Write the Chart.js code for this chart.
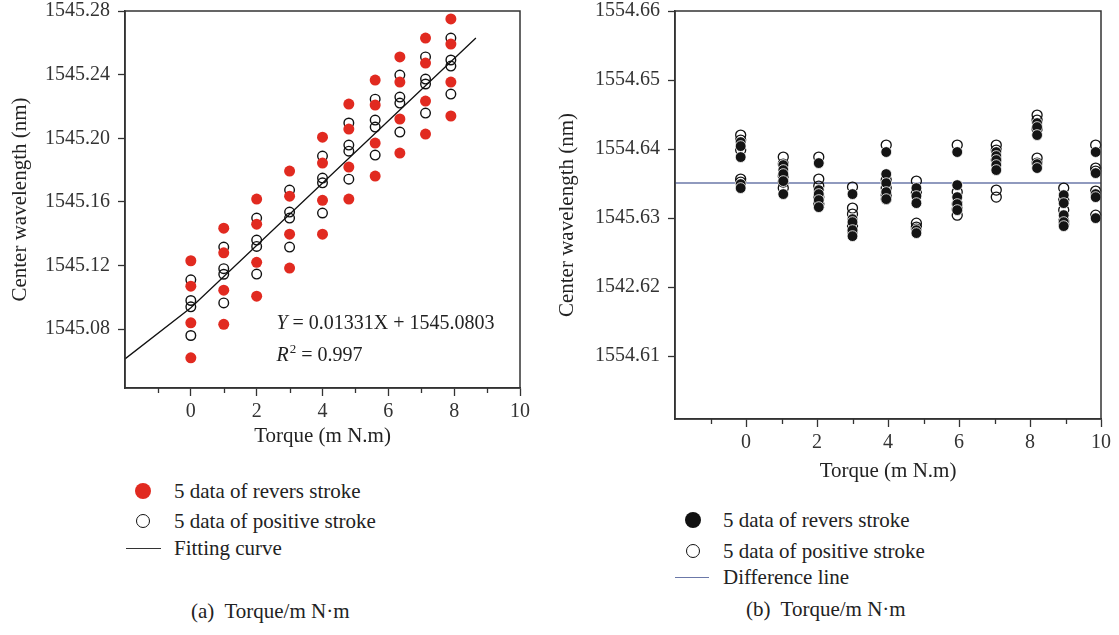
<!DOCTYPE html>
<html>
<head>
<meta charset="utf-8">
<script src="https://cdn.jsdelivr.net/npm/chart.js@4.4.1/dist/chart.umd.min.js"></script>
<style>
body { margin: 0; background: #fff; width: 1119px; height: 635px; overflow: hidden; position: relative; font-family: "Liberation Serif", serif; color: #222; }
.box { position: absolute; }
.lg { position: absolute; font-size: 21px; line-height: 24px; white-space: nowrap; }
.dot { position: absolute; border-radius: 50%; box-sizing: border-box; }
.ln { position: absolute; height: 0; }
</style>
</head>
<body>
<div class="box" style="left:0;top:0;width:540px;height:460px"><canvas id="chartA"></canvas></div>
<div class="box" style="left:545px;top:0;width:574px;height:500px"><canvas id="chartB"></canvas></div>

<!-- legend (a) -->
<div class="dot" style="left:135px;top:483px;width:16px;height:16px;background:#e12a20"></div>
<div class="lg" style="left:174px;top:479px">5 data of revers stroke</div>
<div class="dot" style="left:136px;top:514px;width:14px;height:14px;border:1.5px solid #111"></div>
<div class="lg" style="left:174px;top:509px">5 data of positive stroke</div>
<div class="ln" style="left:126px;top:548px;width:35px;border-top:1.5px solid #333"></div>
<div class="lg" style="left:174px;top:536px">Fitting curve</div>
<div class="lg" style="left:191px;top:599px">(a)&nbsp; Torque/m N·m</div>

<!-- legend (b) -->
<div class="dot" style="left:685px;top:512px;width:16px;height:16px;background:#111"></div>
<div class="lg" style="left:723px;top:508px">5 data of revers stroke</div>
<div class="dot" style="left:686px;top:544px;width:14px;height:14px;border:1.5px solid #111"></div>
<div class="lg" style="left:723px;top:539px">5 data of positive stroke</div>
<div class="ln" style="left:675px;top:577px;width:34px;border-top:1.5px solid #6b78a8"></div>
<div class="lg" style="left:723px;top:565px">Difference line</div>
<div class="lg" style="left:746px;top:597px">(b)&nbsp; Torque/m N·m</div>

<script>
// (a) torque positions and wavelengths per torque step
const torqueA = [0, 1, 2, 3, 4, 4.8, 5.6, 6.35, 7.13, 7.9];
const reversA = [
    [1545.123, 1545.107, 1545.084, 1545.062],
    [1545.1435, 1545.128, 1545.1045, 1545.083],
    [1545.1618, 1545.146, 1545.122, 1545.1007],
    [1545.1794, 1545.1636, 1545.1397, 1545.1184],
    [1545.2007, 1545.1844, 1545.161, 1545.1397],
    [1545.2215, 1545.2058, 1545.1819, 1545.1618],
    [1545.2366, 1545.2209, 1545.197, 1545.1762],
    [1545.2511, 1545.2353, 1545.2121, 1545.1907],
    [1545.263, 1545.2473, 1545.2234, 1545.2026],
    [1545.275, 1545.2592, 1545.2353, 1545.214]
];
const positiveA = [
    [1545.111, 1545.098, 1545.094, 1545.076],
    [1545.1316, 1545.118, 1545.1145, 1545.0965],
    [1545.1498, 1545.136, 1545.132, 1545.1146],
    [1545.1674, 1545.1536, 1545.1498, 1545.1316],
    [1545.1888, 1545.175, 1545.172, 1545.153],
    [1545.2096, 1545.1957, 1545.1919, 1545.1743],
    [1545.2246, 1545.2114, 1545.207, 1545.1894],
    [1545.2397, 1545.2259, 1545.2221, 1545.2039],
    [1545.2511, 1545.2372, 1545.2341, 1545.2158],
    [1545.263, 1545.2492, 1545.2454, 1545.2278]
];
const fitX = [-2, 0, 8.66];
const fitY = [1545.0613, 1545.0935, 1545.263];

// (b)
const torqueB = [-0.15, 1.05, 2.05, 3, 3.95, 4.8, 5.95, 7.05, 8.2, 8.95, 9.85];
const reversB = [
    [1554.64101, 1554.64043, 1554.63884, 1554.63493, 1554.63435],
    [1554.63768, 1554.63696, 1554.63638, 1554.63536, 1554.63348],
    [1554.63797, 1554.63406, 1554.63348, 1554.63261, 1554.63159],
    [1554.63348, 1554.62985, 1554.62942, 1554.62826, 1554.62739],
    [1554.63957, 1554.63638, 1554.63507, 1554.63377, 1554.63275],
    [1554.63435, 1554.63319, 1554.63217, 1554.62826, 1554.62783],
    [1554.63957, 1554.63478, 1554.63304, 1554.63203, 1554.63116],
    [1554.63957, 1554.63899, 1554.63841, 1554.63768, 1554.63696],
    [1554.64377, 1554.64319, 1554.64203, 1554.63783, 1554.63725],
    [1554.63333, 1554.63217, 1554.63043, 1554.62942, 1554.62884],
    [1554.63957, 1554.63652, 1554.63348, 1554.63304, 1554.63]
];
const positiveB = [
    [1554.64203, 1554.6413, 1554.63985, 1554.63565, 1554.63522],
    [1554.63884, 1554.63783, 1554.63609, 1554.63522, 1554.63435],
    [1554.63884, 1554.63565, 1554.63464, 1554.63304, 1554.63203],
    [1554.63449, 1554.63145, 1554.63058, 1554.62884, 1554.62812],
    [1554.64058, 1554.63551, 1554.63435, 1554.63333, 1554.63275],
    [1554.63536, 1554.63362, 1554.62927, 1554.6287, 1554.62841],
    [1554.64058, 1554.63377, 1554.63203, 1554.6313, 1554.63043],
    [1554.64058, 1554.63985, 1554.63841, 1554.63406, 1554.63304],
    [1554.64493, 1554.6442, 1554.6429, 1554.6387, 1554.63797],
    [1554.63435, 1554.63261, 1554.63116, 1554.62956, 1554.62913],
    [1554.64058, 1554.63725, 1554.63681, 1554.63391, 1554.63043]
];
const diffX = [-2, 10];
const diffY = [1554.6351, 1554.6351];
const yLabelsB = ["1554.61", "1542.62", "1545.63", "1554.64", "1554.65", "1554.66"];

const FONT = "Liberation Serif";

function toPoints(xs, cols) {
    const out = [];
    cols.forEach((col, i) => col.forEach(v => out.push({ x: xs[i], y: v })));
    return out;
}

function pairs(xs, ys) {
    return xs.map((x, i) => ({ x: x, y: ys[i] }));
}

// box around the plot and short minor ticks on odd torque values
const framePlugin = {
    id: "frame",
    afterDraw(chart) {
        const ctx = chart.ctx;
        const a = chart.chartArea;
        const xs = chart.scales.x;
        ctx.save();
        ctx.strokeStyle = "#333";
        ctx.lineWidth = 1.5;
        ctx.strokeRect(a.left, a.top, a.right - a.left, a.bottom - a.top);
        ctx.lineWidth = 1.3;
        xs.ticks.forEach(t => {
            if (Math.abs(t.value % 2) === 1) {
                const px = Math.round(xs.getPixelForValue(t.value)) + 0.5;
                ctx.beginPath();
                ctx.moveTo(px, a.bottom);
                ctx.lineTo(px, a.bottom + 5);
                ctx.stroke();
            }
        });
        ctx.restore();
    }
};

const equationPlugin = {
    id: "equation",
    afterDraw(chart) {
        const ctx = chart.ctx;
        const xs = chart.scales.x, ys = chart.scales.y;
        const x0 = xs.getPixelForValue(2.6);
        const y1 = ys.getPixelForValue(1545.0837);
        const y2 = ys.getPixelForValue(1545.063);
        ctx.save();
        ctx.fillStyle = "#222";
        ctx.textBaseline = "middle";
        ctx.font = "italic 20px '" + FONT + "'";
        ctx.fillText("Y", x0, y1);
        let w = ctx.measureText("Y").width;
        ctx.font = "20px '" + FONT + "'";
        ctx.fillText(" = 0.01331X + 1545.0803", x0 + w, y1);
        ctx.font = "italic 20px '" + FONT + "'";
        ctx.fillText("R", x0, y2);
        w = ctx.measureText("R").width;
        ctx.font = "13px '" + FONT + "'";
        ctx.fillText("2", x0 + w + 1, y2 - 7);
        const w2 = ctx.measureText("2").width;
        ctx.font = "20px '" + FONT + "'";
        ctx.fillText(" = 0.997", x0 + w + w2 + 1, y2);
        ctx.restore();
    }
};

function xAxis(height, titlePad) {
    return {
        type: "linear",
        min: -2,
        max: 10,
        afterFit(scale) {
            scale.height = height;
            scale.paddingLeft = 0;
            scale.paddingRight = 0;
        },
        ticks: {
            stepSize: 1,
            autoSkip: false,
            maxRotation: 0,
            padding: 4,
            color: "#333",
            font: { family: FONT, size: 20 },
            callback: v => (v >= 0 && v % 2 === 0) ? String(v) : ""
        },
        grid: {
            drawOnChartArea: false,
            tickLength: 8,
            tickWidth: 1.3,
            tickColor: c => (c.tick && c.tick.value >= 0 && c.tick.value % 2 === 0) ? "#333" : "rgba(0,0,0,0)"
        },
        border: { color: "#333", width: 1.5 },
        title: {
            display: true,
            text: "Torque (m N.m)",
            color: "#222",
            font: { family: FONT, size: 21 },
            padding: { top: 0, bottom: titlePad }
        }
    };
}

function yAxis(width, min, max, step, titlePad, labelFn) {
    return {
        type: "linear",
        min: min,
        max: max,
        afterFit(scale) {
            scale.width = width;
            scale.paddingTop = 0;
            scale.paddingBottom = 0;
        },
        ticks: {
            stepSize: step,
            includeBounds: false,
            padding: 8,
            color: "#333",
            font: { family: FONT, size: 20 },
            callback: labelFn
        },
        grid: {
            drawOnChartArea: false,
            tickLength: 7,
            tickWidth: 1.3,
            tickColor: "#333"
        },
        border: { color: "#333", width: 1.5 },
        title: {
            display: true,
            text: "Center wavelength (nm)",
            color: "#222",
            font: { family: FONT, size: 21 },
            padding: { top: titlePad, bottom: 0 }
        }
    };
}

const baseOptions = {
    responsive: true,
    maintainAspectRatio: false,
    animation: false,
    plugins: { legend: { display: false }, tooltip: { enabled: false } }
};

new Chart(document.getElementById("chartA"), {
    type: "scatter",
    data: {
        datasets: [
            {
                label: "Fitting curve",
                data: pairs(fitX, fitY),
                showLine: true,
                borderColor: "#111",
                borderWidth: 1.3,
                pointRadius: 0,
                tension: 0
            },
            {
                label: "5 data of revers stroke",
                data: toPoints(torqueA, reversA),
                pointRadius: 5.5,
                backgroundColor: "#e12a20",
                borderColor: "#e12a20",
                borderWidth: 0
            },
            {
                label: "5 data of positive stroke",
                data: toPoints(torqueA, positiveA),
                pointRadius: 4.8,
                backgroundColor: "rgba(255,255,255,0)",
                borderColor: "#111",
                borderWidth: 1.4
            }
        ]
    },
    options: Object.assign({}, baseOptions, {
        layout: { padding: { top: 11, right: 20, left: 0, bottom: 0 } },
        scales: {
            x: xAxis(72, 11),
            y: yAxis(125, 1545.043, 1545.28, 0.04, 8, v => v.toFixed(2))
        }
    }),
    plugins: [framePlugin, equationPlugin]
});

new Chart(document.getElementById("chartB"), {
    type: "scatter",
    data: {
        datasets: [
            {
                label: "5 data of revers stroke",
                data: toPoints(torqueB, reversB),
                pointRadius: 5.4,
                backgroundColor: "#141414",
                borderColor: "#ffffff",
                borderWidth: 0.8,
                clip: false
            },
            {
                label: "5 data of positive stroke",
                data: toPoints(torqueB, positiveB),
                pointRadius: 5,
                backgroundColor: "rgba(255,255,255,0)",
                borderColor: "#111",
                borderWidth: 1.3,
                clip: false
            },
            {
                label: "Difference line",
                data: pairs(diffX, diffY),
                showLine: true,
                borderColor: "#6b78a8",
                borderWidth: 1.5,
                pointRadius: 0
            }
        ]
    },
    options: Object.assign({}, baseOptions, {
        layout: { padding: { top: 11, right: 18, left: 0, bottom: 0 } },
        scales: {
            x: xAxis(81, 16),
            y: yAxis(130, 1554.6009, 1554.66, 0.01, 10, (v, i) => yLabelsB[i])
        }
    }),
    plugins: [framePlugin]
});
</script>
</body>
</html>
